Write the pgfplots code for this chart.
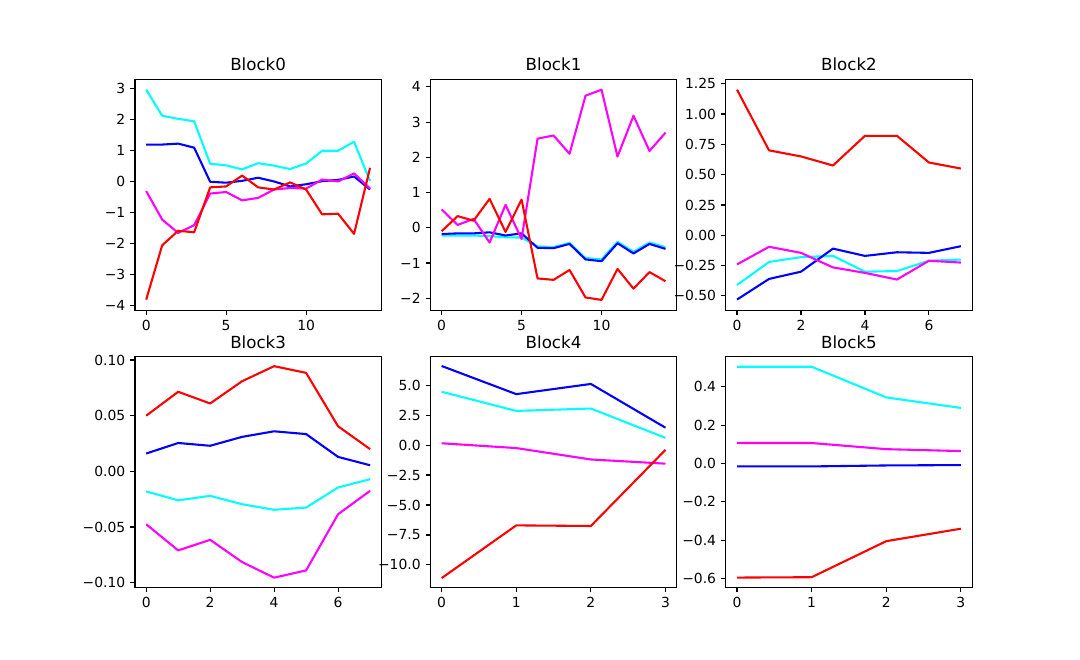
\documentclass[border=0pt]{standalone}
\usepackage{pgfplots}
\pgfplotsset{compat=1.18}
\usepackage{fontspec}
\setmainfont{DejaVu Sans}
\definecolor{mred}{rgb}{1,0,0}
\definecolor{mblue}{rgb}{0,0,1}
\definecolor{mcyan}{rgb}{0,1,1}
\definecolor{mmag}{rgb}{1,0,1}
\pgfplotsset{
  every axis title shift=0pt,
  mpl/.style={
    scale only axis, width=177.3pt, height=166.3pt, anchor=south west,
    axis line style={line width=0.8pt, black},
    tick align=outside, tick pos=left,
    major tick length=3.5pt,
    every tick/.style={line width=0.8pt, black},
    tick label style={font=\fontsize{10}{12}\selectfont},
    /pgf/number format/assume math mode=true,
    title style={font=\fontsize{12}{14}\selectfont, at={(0.5,1)}, anchor=base, yshift=6pt, inner sep=0pt},
    every axis plot/.append style={line width=1.5pt, line join=round, no marks},
    clip=true,
  },
}
\begin{document}
\begin{tikzpicture}
\path[use as bounding box] (0,0) rectangle (777.6pt,475.2pt);
% Block0
\begin{axis}[mpl, at={(97.2pt,251.9pt)}, title={Block0},
  xmin=-0.7, xmax=14.7, ymin=-4.14, ymax=3.31,
  xtick={0,5,10}, xticklabels={0,5,10},
  ytick={-4,-3,-2,-1,0,1,2,3}, yticklabels={−4,−3,−2,−1,0,1,2,3}]
\addplot[mcyan] coordinates {(0,2.97)(1,2.13)(2,2.03)(3,1.95)(4,0.58)(5,0.53)(6,0.40)(7,0.60)(8,0.52)(9,0.41)(10,0.59)(11,1.00)(12,1.00)(13,1.29)(14,0.02)};
\addplot[mblue] coordinates {(0,1.20)(1,1.20)(2,1.23)(3,1.10)(4,0.00)(5,-0.03)(6,0.03)(7,0.13)(8,0.01)(9,-0.15)(10,-0.08)(11,0.02)(12,0.06)(13,0.17)(14,-0.25)};
\addplot[mmag] coordinates {(0,-0.30)(1,-1.22)(2,-1.65)(3,-1.40)(4,-0.38)(5,-0.33)(6,-0.60)(7,-0.52)(8,-0.25)(9,-0.20)(10,-0.22)(11,0.07)(12,0.01)(13,0.27)(14,-0.22)};
\addplot[mred] coordinates {(0,-3.80)(1,-2.05)(2,-1.58)(3,-1.63)(4,-0.18)(5,-0.15)(6,0.20)(7,-0.18)(8,-0.25)(9,-0.02)(10,-0.25)(11,-1.05)(12,-1.03)(13,-1.68)(14,0.45)};
\end{axis}
% Block1
\begin{axis}[mpl, at={(309.9pt,251.9pt)}, title={Block1},
  xmin=-0.7, xmax=14.7, ymin=-2.34, ymax=4.22,
  xtick={0,5,10}, xticklabels={0,5,10},
  ytick={-2,-1,0,1,2,3,4}, yticklabels={−2,−1,0,1,2,3,4}]
\addplot[mcyan] coordinates {(0,-0.22)(1,-0.22)(2,-0.22)(3,-0.24)(4,-0.27)(5,-0.28)(6,-0.53)(7,-0.55)(8,-0.43)(9,-0.86)(10,-0.90)(11,-0.40)(12,-0.68)(13,-0.42)(14,-0.55)};
\addplot[mblue] coordinates {(0,-0.18)(1,-0.16)(2,-0.16)(3,-0.13)(4,-0.22)(5,-0.16)(6,-0.57)(7,-0.58)(8,-0.46)(9,-0.90)(10,-0.95)(11,-0.44)(12,-0.73)(13,-0.46)(14,-0.60)};
\addplot[mmag] coordinates {(0,0.52)(1,0.08)(2,0.25)(3,-0.42)(4,0.65)(5,-0.32)(6,2.53)(7,2.62)(8,2.10)(9,3.75)(10,3.92)(11,2.02)(12,3.18)(13,2.18)(14,2.70)};
\addplot[mred] coordinates {(0,-0.10)(1,0.33)(2,0.20)(3,0.82)(4,-0.12)(5,0.80)(6,-1.44)(7,-1.48)(8,-1.20)(9,-1.98)(10,-2.05)(11,-1.17)(12,-1.73)(13,-1.26)(14,-1.52)};
\end{axis}
% Block2
\begin{axis}[mpl, at={(522.6pt,251.9pt)}, title={Block2},
  xmin=-0.35, xmax=7.35, ymin=-0.617, ymax=1.287,
  xtick={0,2,4,6}, xticklabels={0,2,4,6},
  ytick={-0.5,-0.25,0,0.25,0.5,0.75,1,1.25}, yticklabels={−0.50,−0.25,0.00,0.25,0.50,0.75,1.00,1.25}]
\addplot[mcyan] coordinates {(0,-0.41)(1,-0.22)(2,-0.18)(3,-0.17)(4,-0.30)(5,-0.295)(6,-0.21)(7,-0.20)};
\addplot[mblue] coordinates {(0,-0.53)(1,-0.36)(2,-0.30)(3,-0.11)(4,-0.17)(5,-0.14)(6,-0.145)(7,-0.09)};
\addplot[mmag] coordinates {(0,-0.24)(1,-0.095)(2,-0.145)(3,-0.265)(4,-0.31)(5,-0.365)(6,-0.21)(7,-0.225)};
\addplot[mred] coordinates {(0,1.20)(1,0.70)(2,0.65)(3,0.575)(4,0.82)(5,0.82)(6,0.60)(7,0.55)};
\end{axis}
% Block3
\begin{axis}[mpl, at={(97.2pt,52.3pt)}, title={Block3},
  xmin=-0.35, xmax=7.35, ymin=-0.1042, ymax=0.1033,
  xtick={0,2,4,6}, xticklabels={0,2,4,6},
  ytick={-0.1,-0.05,0,0.05,0.1}, yticklabels={−0.10,−0.05,0.00,0.05,0.10}]
\addplot[mcyan] coordinates {(0,-0.018)(1,-0.026)(2,-0.022)(3,-0.0295)(4,-0.0345)(5,-0.0325)(6,-0.0145)(7,-0.007)};
\addplot[mblue] coordinates {(0,0.016)(1,0.0255)(2,0.023)(3,0.031)(4,0.036)(5,0.0335)(6,0.013)(7,0.0055)};
\addplot[mmag] coordinates {(0,-0.0475)(1,-0.071)(2,-0.0615)(3,-0.0815)(4,-0.0955)(5,-0.089)(6,-0.0385)(7,-0.0175)};
\addplot[mred] coordinates {(0,0.050)(1,0.0715)(2,0.061)(3,0.081)(4,0.0945)(5,0.0885)(6,0.0405)(7,0.020)};
\end{axis}
% Block4
\begin{axis}[mpl, at={(309.9pt,52.3pt)}, title={Block4},
  xmin=-0.15, xmax=3.15, ymin=-11.87, ymax=7.4,
  xtick={0,1,2,3}, xticklabels={0,1,2,3},
  ytick={-10,-7.5,-5,-2.5,0,2.5,5}, yticklabels={−10.0,−7.5,−5.0,−2.5,0.0,2.5,5.0}]
\addplot[mcyan] coordinates {(0,4.45)(1,2.85)(2,3.05)(3,0.60)};
\addplot[mblue] coordinates {(0,6.60)(1,4.25)(2,5.10)(3,1.45)};
\addplot[mmag] coordinates {(0,0.15)(1,-0.25)(2,-1.20)(3,-1.55)};
\addplot[mred] coordinates {(0,-11.10)(1,-6.70)(2,-6.75)(3,-0.40)};
\end{axis}
% Block5
\begin{axis}[mpl, at={(522.6pt,52.3pt)}, title={Block5},
  xmin=-0.15, xmax=3.15, ymin=-0.646, ymax=0.559,
  xtick={0,1,2,3}, xticklabels={0,1,2,3},
  ytick={-0.6,-0.4,-0.2,0,0.2,0.4}, yticklabels={−0.6,−0.4,−0.2,0.0,0.2,0.4}]
\addplot[mcyan] coordinates {(0,0.505)(1,0.505)(2,0.345)(3,0.29)};
\addplot[mblue] coordinates {(0,-0.015)(1,-0.015)(2,-0.010)(3,-0.008)};
\addplot[mmag] coordinates {(0,0.107)(1,0.107)(2,0.075)(3,0.065)};
\addplot[mred] coordinates {(0,-0.595)(1,-0.593)(2,-0.405)(3,-0.34)};
\end{axis}
\end{tikzpicture}
\end{document}
